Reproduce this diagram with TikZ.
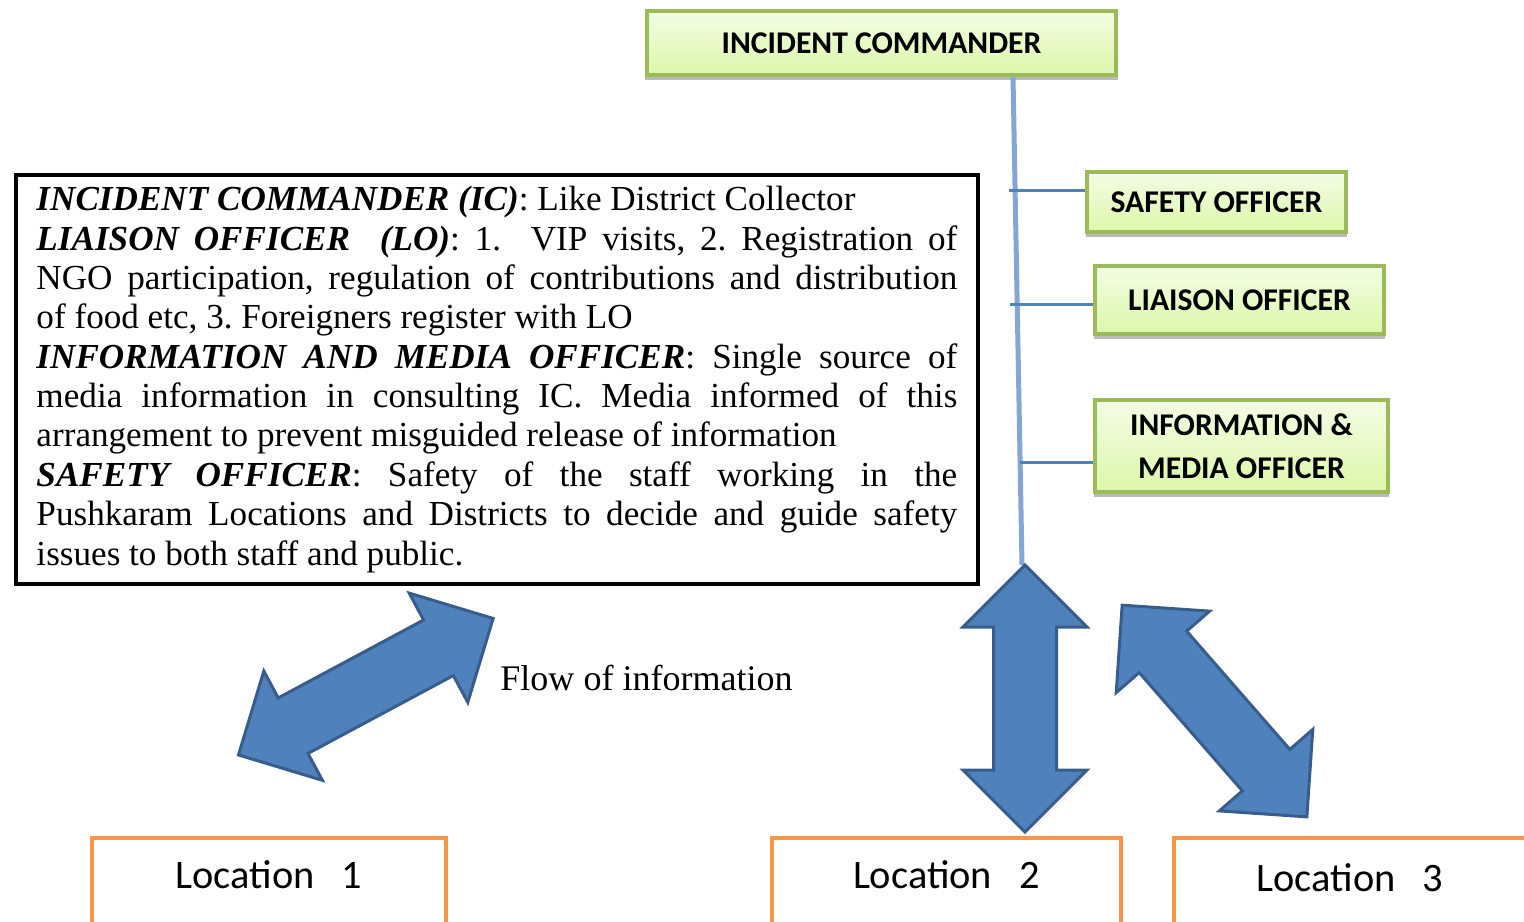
\documentclass[tikz,border=0pt]{standalone}
\usepackage{fontspec}
\setmainfont{Liberation Serif}
\newfontfamily\calfont{Carlito}
\usepackage{xcolor}
\usepackage{tikz}
\usetikzlibrary{arrows,shapes,shadows,positioning}

\definecolor{boxgreen}{HTML}{9BBB59}
\definecolor{fillhi}{HTML}{F3FDE4}
\definecolor{filllo}{HTML}{DCF7AA}
\definecolor{trunkblue}{HTML}{82A7D6}
\definecolor{branchblue}{HTML}{4F81BD}
\definecolor{arrowblue}{HTML}{4F81BD}
\definecolor{arrowedge}{HTML}{385D8A}
\definecolor{locorange}{HTML}{F79646}

\tikzset{
    officer/.style={draw=boxgreen, line width=0.08cm, top color=fillhi, bottom color=filllo,
        drop shadow={shadow xshift=0pt, shadow yshift=-0.09cm, shadow scale=1.01, fill=black!45, opacity=0.6},
        font=\calfont\bfseries\fontsize{18pt}{24.4pt}\selectfont, align=center, inner sep=0pt},
    rolebox/.style={draw, line width=0.08cm, text width=18.42cm, inner xsep=0.41cm, inner ysep=0pt,
        minimum height=8.18cm, align=justify, font=\fontsize{20pt}{22.4pt}\selectfont\frenchspacing},
    location/.style={draw=locorange, line width=0.08cm, inner sep=0pt, anchor=base,
        font=\calfont\fontsize{23pt}{27pt}\selectfont},
    flowarrow/.style={double arrow, draw=arrowedge, fill=arrowblue, line width=0.06cm,
        inner xsep=0pt, inner ysep=0.6cm, double arrow head extend=0.61cm},
    trunk/.style={trunkblue, line width=0.1cm},
    branch/.style={branchblue, line width=0.06cm}
}

\begin{document}
\begin{tikzpicture}[x=0.02cm, y=-0.02cm]
        \useasboundingbox (0,0) rectangle (1524,921);
        \clip (0,0) rectangle (1524,921);

        \node[officer, minimum width=9.38cm, minimum height=1.28cm] (ic) at (881.5,43) {INCIDENT COMMANDER};
        \node[officer, minimum width=5.18cm, minimum height=1.2cm] (safety) at (1216.5,202) {SAFETY OFFICER};
        \node[officer, minimum width=5.78cm, minimum height=1.36cm] (liaison) at (1239.5,300) {LIAISON OFFICER};
        \node[officer, minimum width=5.86cm, minimum height=1.84cm] (media) at (1241.5,446) {INFORMATION \&\\MEDIA OFFICER};

        \node[rolebox, anchor=north west] (roles) at (14,173) {\parindent=0pt
            \textbf{\textit{INCIDENT COMMANDER (IC)}}: Like District Collector\par
            \textbf{\textit{LIAISON OFFICER\ \ (LO)}}: 1.\ \ VIP visits, 2. Registration of\linebreak
            NGO participation, regulation of contributions and distribution\linebreak
            of food etc, 3. Foreigners register with LO\par
            \textbf{\textit{INFORMATION AND MEDIA OFFICER}}: Single source of\linebreak
            media information in consulting IC. Media informed of this\linebreak
            arrangement to prevent misguided release of information\par
            \textbf{\textit{SAFETY OFFICER}}: Safety of the staff working in the\linebreak
            Pushkaram Locations and Districts to decide and guide safety\linebreak
            issues to both staff and public.};

        % command line down from the IC
        \coordinate (trunktop) at (1013,77);
        \coordinate (trunkend) at (1022,565);
        \draw[trunk] (ic.south -| trunktop) -- (trunkend);

        \coordinate (jsafety) at (1009,190);
        \coordinate (jliaison) at (1010,304);
        \coordinate (jmedia) at (1020,462);
        \draw[branch] (jsafety) -- (jsafety -| safety.west);
        \draw[branch] (jliaison) -- (jliaison -| liaison.west);
        \draw[branch] (jmedia) -- (jmedia -| media.west);

        \node[location, minimum width=7.08cm, text height=1cm, text depth=1.3cm] (loc1) at (269,888) {Location\ \ \ 1};
        \node[location, minimum width=6.98cm, text height=1cm, text depth=1.3cm] (loc2) at (946.5,888) {Location\ \ \ 2};
        \node[location, minimum width=7.04cm, text height=1.06cm, text depth=1.3cm] (loc3) at (1350,891) {Location\ \ \ 3};

        % flow of information
        \node[flowarrow, minimum height=5.78cm, rotate=28.2] (flowleft) at (365.8,686.7) {};
        \node[flowarrow, minimum height=5.34cm, rotate=90] (flowmid) at (1025,698.5) {};
        \node[flowarrow, minimum height=5.62cm, rotate=-48.9] (flowright) at (1214.5,711) {};

        \node[anchor=base, font=\fontsize{20.5pt}{24pt}\selectfont, inner sep=0pt] (flowtxt) at (646.5,690) {Flow of information};

    \end{tikzpicture}
\end{document}
